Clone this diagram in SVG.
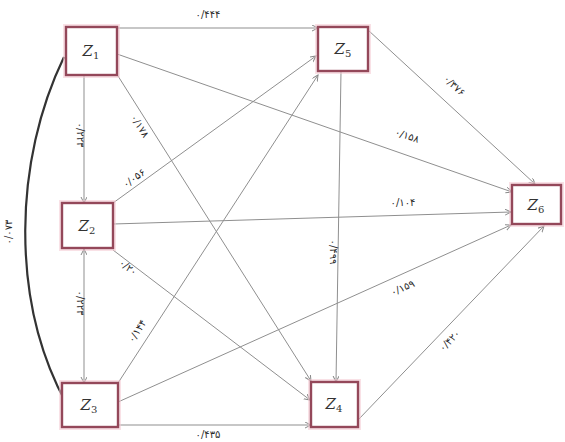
<svg xmlns="http://www.w3.org/2000/svg" width="565" height="442" viewBox="0 0 565 442">
<defs>
<marker id="arr" markerWidth="8" markerHeight="8" refX="6" refY="3" orient="auto" markerUnits="userSpaceOnUse">
<path d="M0,0 L6,3 L0,6" fill="none" stroke="#888" stroke-width="1"/>
</marker>
<marker id="arrs" markerWidth="8" markerHeight="8" refX="0" refY="3" orient="auto" markerUnits="userSpaceOnUse">
<path d="M6,0 L0,3 L6,6" fill="none" stroke="#888" stroke-width="1"/>
</marker>
<marker id="arrk" markerWidth="8" markerHeight="8" refX="5" refY="3" orient="auto" markerUnits="userSpaceOnUse">
<path d="M0,0 L6,3 L0,6 Z" fill="#333"/>
</marker>
</defs>
<style>
.glow{fill:none;stroke:#f4c8d2;stroke-width:6;opacity:0.55}
.box{fill:#fff;stroke:#94485a;stroke-width:2.4}
.nl{font-family:"DejaVu Serif","Liberation Serif",serif;font-style:italic;font-size:15px;fill:#333;text-anchor:middle}
.nl tspan{font-size:10px;font-style:normal}
.c{fill:none;stroke:#8f8f8f;stroke-width:1;marker-end:url(#arr)}
.el{font-family:"DejaVu Sans",sans-serif;font-size:10px;fill:#2a2a2a;text-anchor:middle}
</style>
<rect width="565" height="442" fill="#fff"/>
<g id="connectors">
<path class="c" d="M117,28 L318,28"/>
<path class="c" d="M117,54 L512,192"/>
<path class="c" d="M84,75 L84,203"/>
<path class="c" d="M118,76 L311,381"/>
<path class="c" d="M113,203 L316,56"/>
<path class="c" d="M118,383 L318,75"/>
<path class="c" d="M113,224 L511,212"/>
<path class="c" d="M113,250 L310,400"/>
<path class="c" d="M118,402 L511,225"/>
<path class="c" d="M118,425 L311,425"/>
<path class="c" d="M358,420 L544,226"/>
<path class="c" d="M368,30 L535,184"/>
<path class="c" d="M341,71 L336,382"/>
<path class="c" d="M84,249 L84,383" style="marker-start:url(#arrs)"/>
<path d="M64,57 C14,160 10,300 66,403" fill="none" stroke="#333" stroke-width="2.2" marker-end="url(#arrk)"/>
</g>
<g id="labels">
<text class="el" x="208" y="18">۰/۴۴۴</text>
<text class="el" transform="translate(452,88) rotate(43)">۰/۳۷۶</text>
<text class="el" transform="translate(406,139) rotate(19)">۰/۱۵۸</text>
<text class="el" transform="translate(137,128) rotate(57)">۰/۱۷۸</text>
<text class="el" transform="translate(77,135) rotate(90)">۰/۲۲۳</text>
<text class="el" transform="translate(136,181) rotate(-36)">۰/۰۵۶</text>
<text class="el" x="403" y="206">۰/۱۰۴</text>
<text class="el" transform="translate(126,270) rotate(37)">۰/۲۰</text>
<text class="el" transform="translate(330,252) rotate(90)">۰/۴۹۹</text>
<text class="el" transform="translate(404,291) rotate(-24)">۰/۱۵۹</text>
<text class="el" transform="translate(77,303) rotate(90)">۰/۲۲۳</text>
<text class="el" transform="translate(140,333) rotate(-57)">۰/۱۴۴</text>
<text class="el" x="208" y="438">۰/۴۳۵</text>
<text class="el" transform="translate(452,343) rotate(-46)">۰/۴۲۰</text>
<text class="el" transform="translate(12,232) rotate(-90)">۰/۰۷۳</text>
</g>
<g id="Z1"><rect class="glow" x="66" y="27" width="51" height="48"/><rect class="box" x="66" y="27" width="51" height="48"/><text class="nl" x="91" y="56">Z<tspan dy="3">1</tspan></text></g>
<g id="Z5"><rect class="glow" x="318" y="27" width="50" height="44"/><rect class="box" x="318" y="27" width="50" height="44"/><text class="nl" x="343" y="54">Z<tspan dy="3">5</tspan></text></g>
<g id="Z6"><rect class="glow" x="512" y="185" width="49" height="39"/><rect class="box" x="512" y="185" width="49" height="39"/><text class="nl" x="536" y="210">Z<tspan dy="3">6</tspan></text></g>
<g id="Z2"><rect class="glow" x="62" y="203" width="51" height="45"/><rect class="box" x="62" y="203" width="51" height="45"/><text class="nl" x="87" y="231">Z<tspan dy="3">2</tspan></text></g>
<g id="Z3"><rect class="glow" x="62" y="383" width="56" height="44"/><rect class="box" x="62" y="383" width="56" height="44"/><text class="nl" x="89" y="410">Z<tspan dy="3">3</tspan></text></g>
<g id="Z4"><rect class="glow" x="311" y="382" width="47" height="45"/><rect class="box" x="311" y="382" width="47" height="45"/><text class="nl" x="334" y="409">Z<tspan dy="3">4</tspan></text></g>
</svg>
